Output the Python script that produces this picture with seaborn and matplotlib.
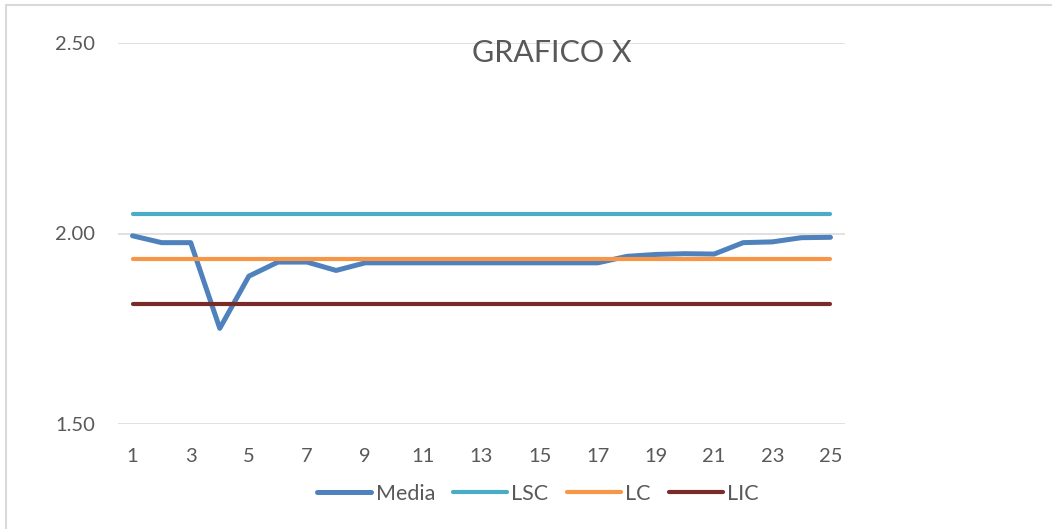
import numpy as np
import pandas as pd
import matplotlib
matplotlib.use("Agg")
import matplotlib.pyplot as plt
from matplotlib.patches import Rectangle
import seaborn as sns

# Control chart data
samples = list(range(1, 26))
media = [1.994, 1.976, 1.976, 1.751, 1.888, 1.925, 1.925, 1.903, 1.923,
         1.923, 1.923, 1.923, 1.923, 1.923, 1.923, 1.923, 1.923, 1.940,
         1.945, 1.947, 1.946, 1.976, 1.978, 1.989, 1.990]
lsc = 2.052
lc = 1.932
lic = 1.814

series_names = ["Media", "LSC", "LC", "LIC"]
series_colors = ["#4F81BD", "#4BACC6", "#F79646", "#772C2A"]
series_widths = [3.6, 3.0, 3.0, 3.0]
x_ticks = list(range(1, 26, 2))
y_ticks = [1.5, 2.0, 2.5]

df = pd.DataFrame({
    "muestra": samples,
    "Media": media,
    "LSC": np.full(len(samples), lsc),
    "LC": np.full(len(samples), lc),
    "LIC": np.full(len(samples), lic),
})

sns.set_theme(style="white")
plt.rcParams["font.family"] = ["Lato", "DejaVu Sans"]
text_color = "#595959"

fig = plt.figure(figsize=(10.52, 5.29), dpi=100)
ax = fig.add_axes([118 / 1052, 1 - 424 / 529, (845 - 118) / 1052, (424 - 43) / 529])

# same drawing order as the spreadsheet: Media first, limits on top
for name, color, lw in zip(series_names, series_colors, series_widths):
    sns.lineplot(data=df, x="muestra", y=name, ax=ax, color=color, linewidth=lw,
                 label=name, solid_capstyle="round", solid_joinstyle="round")

ax.set_xlim(0.5, 25.5)
ax.set_ylim(1.5, 2.5)
ax.set_xticks(x_ticks)
ax.set_yticks(y_ticks)
ax.set_yticklabels([f"{v:.2f}" for v in y_ticks])
ax.set_xlabel("")
ax.set_ylabel("")
ax.grid(axis="y", color="#D9D9D9", linewidth=1.1)
ax.set_axisbelow(True)
for s in ax.spines.values():
    s.set_visible(False)
ax.tick_params(axis="both", length=0, labelsize=14.5, colors=text_color)
ax.tick_params(axis="y", pad=16.5)
ax.tick_params(axis="x", pad=17)
ax.get_legend().remove()

fig.text(552 / 1052, 1 - 53 / 529, "GRAFICO X", ha="center", va="center",
         fontsize=22, color=text_color)

handles, labels = ax.get_legend_handles_labels()
leg = fig.legend(handles, labels,
                 loc="center", bbox_to_anchor=(538 / 1052, 1 - 494 / 529), ncol=4,
                 frameon=False, fontsize=15.5, handlelength=2.5, handletextpad=0.2,
                 columnspacing=0.85)
for t in leg.get_texts():
    t.set_color(text_color)

# chart-area border like the spreadsheet export
fig.patches.append(Rectangle((6 / 1052, -0.1), 1.2, 1.1 - 5 / 529, transform=fig.transFigure,
                             fill=False, edgecolor="#D9D9D9", linewidth=1.5))

fig.savefig("out.png", dpi=100)
